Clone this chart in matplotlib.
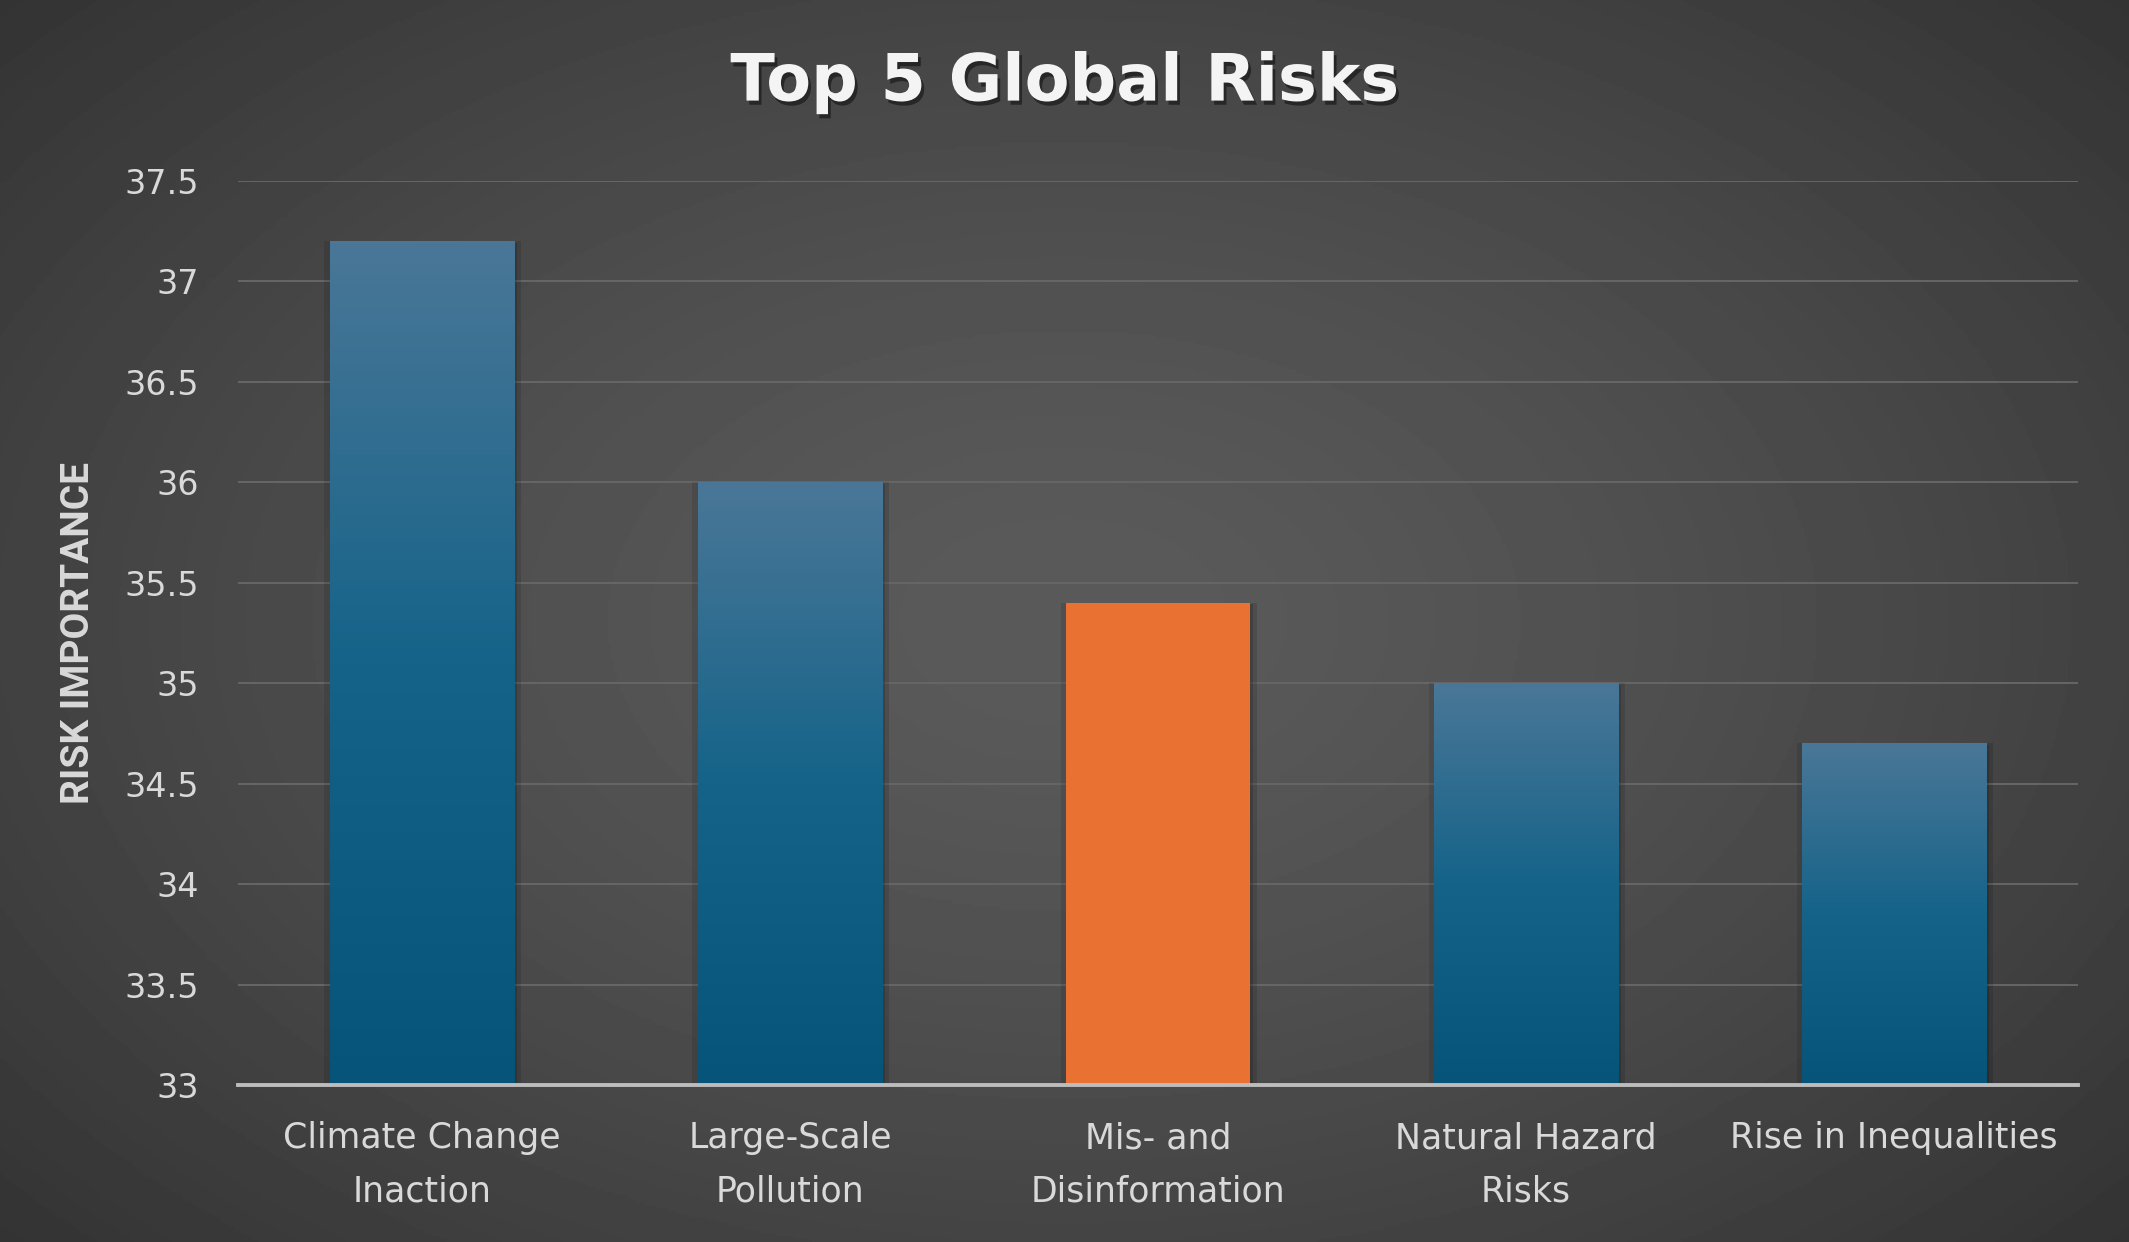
import numpy as np
import matplotlib
matplotlib.use('Agg')
import matplotlib.pyplot as plt
import matplotlib.patheffects as pe
from matplotlib.colors import to_rgb

# data
categories = ['Climate Change\nInaction', 'Large-Scale\nPollution', 'Mis- and\nDisinformation',
              'Natural Hazard\nRisks', 'Rise in Inequalities']
values = [37.2, 36.0, 35.4, 35.0, 34.7]
highlight = [False, False, True, False, False]
yticks = [33, 33.5, 34, 34.5, 35, 35.5, 36, 36.5, 37, 37.5]
ytick_labels = ['33', '33.5', '34', '34.5', '35', '35.5', '36', '36.5', '37', '37.5']

ymin, ymax = 33, 37.5
text_col = '#d9d9d9'

fig = plt.figure(figsize=(21.29, 12.42), dpi=100)

# radial background, lighter in the middle
bg = fig.add_axes([0, 0, 1, 1])
bg.axis('off')
yy, xx = np.mgrid[0:1:400j, 0:1:700j]
r = np.sqrt(((xx - 0.5) / 0.55) ** 2 + ((yy - 0.5) / 0.6) ** 2)
shade = np.clip(0.355 - 0.115 * r ** 1.4, 0, 1)
bg.imshow(shade, cmap='gray', vmin=0, vmax=1, extent=[0, 1, 0, 1], aspect='auto')
bg.set_xlim(0, 1)
bg.set_ylim(0, 1)

ax = fig.add_axes([0.1118, 0.1264, 0.8643, 0.7279])
ax.set_facecolor('none')

x = np.arange(len(categories))
bars = ax.bar(x, np.array(values) - ymin, bottom=ymin, width=0.5, zorder=3,
              color=['#E97132' if h else '#0b5a80' for h in highlight])

# blue gradient (top -> bottom)
stops = [(0.0, '#4a7797'), (0.5, '#156389'), (1.0, '#07547a')]
t = np.linspace(0, 1, 256)
grad = np.zeros((256, 1, 3))
for c in range(3):
    grad[:, 0, c] = np.interp(t, [s[0] for s in stops], [to_rgb(s[1])[c] for s in stops])

for b, h in zip(bars, highlight):
    b.set_path_effects([pe.SimplePatchShadow(offset=(5, 0), shadow_rgbFace='black', alpha=0.12),
                        pe.SimplePatchShadow(offset=(-4, 0), shadow_rgbFace='black', alpha=0.10),
                        pe.SimplePatchShadow(offset=(2, -1), shadow_rgbFace='black', alpha=0.15),
                        pe.Normal()])
    if not h:
        x0 = b.get_x()
        x1 = x0 + b.get_width()
        im = ax.imshow(grad, extent=[x0, x1, ymin, ymin + b.get_height()], aspect='auto',
                       origin='upper', zorder=3.5)
        im.set_clip_path(b)

ax.set_xlim(-0.5, len(categories) - 0.5)
ax.set_ylim(ymin, ymax)
ax.set_aspect('auto')

ax.set_yticks(yticks)
ax.set_yticklabels(ytick_labels)
ax.set_xticks(x)
ax.set_xticklabels(categories, linespacing=1.7)
ax.tick_params(axis='y', length=0, pad=28, labelsize=24, labelcolor=text_col)
ax.tick_params(axis='x', length=0, pad=26, labelsize=25, labelcolor=text_col)

ax.grid(axis='y', color='#666666', linewidth=1.4, zorder=0)
ax.set_axisbelow(True)
for s in ['top', 'right', 'left']:
    ax.spines[s].set_visible(False)
ax.spines['bottom'].set_color('#bdbdbd')
ax.spines['bottom'].set_linewidth(2.8)
ax.spines['bottom'].set_zorder(5)

ax.set_ylabel('RISK IMPORTANCE', fontsize=28, fontweight='bold', color=text_col,
              family='Roboto', labelpad=20)

fig.text(0.5, 0.9335, 'Top 5 Global Risks', ha='center', va='center', fontsize=47,
         fontweight='bold', color='#f4f4f4',
         path_effects=[pe.withSimplePatchShadow(offset=(2, -3), shadow_rgbFace='black', alpha=0.45)])

fig.savefig('out.png', dpi=100)
